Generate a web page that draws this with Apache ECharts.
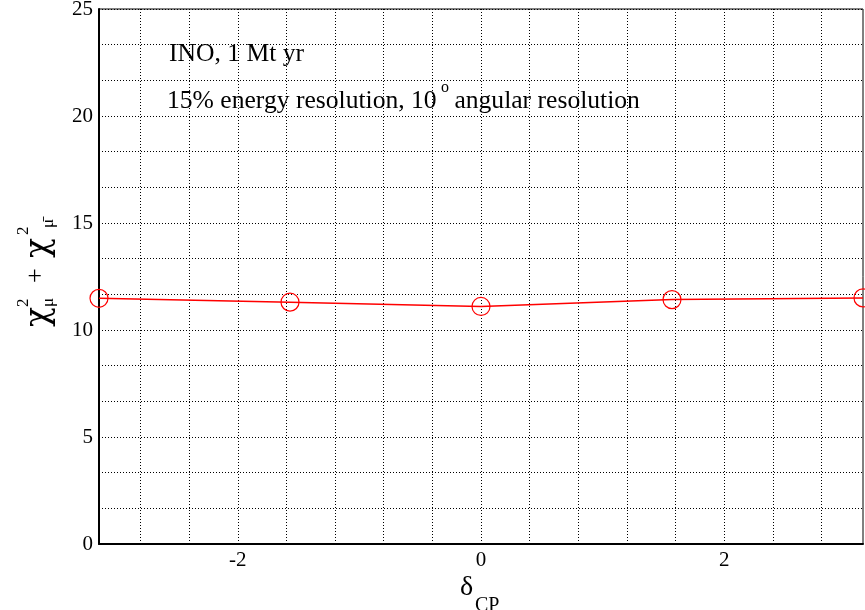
<!DOCTYPE html>
<html>
<head>
<meta charset="utf-8">
<script src="https://cdn.jsdelivr.net/npm/echarts@6/dist/echarts.min.js"></script>
<style>html,body{margin:0;padding:0;background:#fff}#c{width:865px;height:610px}</style>
</head>
<body>
<div id="c"></div>
<script>
const deltaCP = [-Math.PI, -Math.PI / 2, 0, Math.PI / 2, Math.PI];
const chi2 = [11.48, 11.3, 11.1, 11.42, 11.5];
const xGridTicks = [-2.8, -2.4, -2.0, -1.6, -1.2, -0.8, -0.4, 0, 0.4, 0.8, 1.2, 1.6, 2.0, 2.4, 2.8];
const xLabelTicks = [-2, 0, 2];
const yMin = 0, yMax = 25, yStep = 5 / 3, yLabelStep = 5;
const note1 = 'INO, 1 Mt yr';
const note2a = '15% energy resolution, 10';
const note2sup = 'o';
const note2b = ' angular resolution';

const FONT = '"Liberation Serif", "DejaVu Serif", serif';
const f = (s) => s + 'px ' + FONT;
const fChi = (s) => s + 'px "DejaVu Serif", serif';
const chart = echarts.init(document.getElementById('c'));
chart.setOption({
  animation: false,
  backgroundColor: '#fff',
  grid: { left: 99, right: 2, top: 9, bottom: 66, outerBoundsMode: 'none', containLabel: false,
    show: true, borderColor: '#000', borderWidth: 1, backgroundColor: 'transparent' },
  xAxis: {
    type: 'value', min: -Math.PI, max: Math.PI,
    axisLine: { show: true, onZero: false, lineStyle: { color: '#000', width: 2 } },
    axisTick: { show: false, customValues: xGridTicks },
    axisLabel: { customValues: xLabelTicks, color: '#000', fontFamily: FONT, fontSize: 21, margin: 6,
      formatter: v => (v < 0 ? '-' : '') + Math.abs(Math.round(v)) },
    splitLine: { show: true, lineStyle: { color: '#000', type: [1, 2], width: 1 } }
  },
  yAxis: {
    type: 'value', min: yMin, max: yMax, interval: yStep,
    axisLine: { show: true, onZero: false, lineStyle: { color: '#000', width: 2 } },
    axisTick: { show: false },
    axisLabel: { color: '#000', fontFamily: FONT, fontSize: 21, margin: 6,
      formatter: v => { const r = v / yLabelStep; return Math.abs(r - Math.round(r)) < 1e-3 ? String(Math.round(v)) : ''; } },
    splitLine: { show: true, lineStyle: { color: '#000', type: [1, 2], width: 1 } }
  },
  series: [{
    type: 'line',
    data: deltaCP.map((x, i) => [x, chi2[i]]),
    symbol: 'circle', symbolSize: 18,
    itemStyle: { color: 'rgba(0,0,0,0)', borderColor: '#ff0000', borderWidth: 1.2 },
    lineStyle: { color: '#ff0000', width: 1.5 },
    clip: false
  }],
  graphic: [
    { type: 'text', x: 169, y: 54, style: { text: note1, font: f(25.6), fill: '#000', verticalAlign: 'middle' } },
    { type: 'group', x: 167, y: 101, children: [
      { type: 'text', x: 0, y: 0, style: { text: note2a, font: f(25.6), fill: '#000', verticalAlign: 'middle' } },
      { type: 'text', x: 274, y: -13, style: { text: note2sup, font: f(16), fill: '#000', verticalAlign: 'middle' } },
      { type: 'text', x: 281, y: 0, style: { text: note2b, font: f(25.6), fill: '#000', verticalAlign: 'middle' } }
    ] },
    { type: 'group', x: 460, y: 588, children: [
      { type: 'text', x: 0, y: 0, style: { text: 'δ', font: f(28), fill: '#000', verticalAlign: 'middle' } },
      { type: 'text', x: 15, y: 18, style: { text: 'CP', font: f(20), fill: '#000', verticalAlign: 'middle' } }
    ] },
    { type: 'group', x: 45, y: 330, rotation: Math.PI / 2, children: [
      { type: 'text', x: 3, y: -6, style: { text: 'χ', font: fChi(33), fill: '#000', verticalAlign: 'middle' } },
      { type: 'text', x: 23, y: -21, style: { text: '2', font: f(17), fill: '#000', verticalAlign: 'middle' } },
      { type: 'text', x: 23, y: 4, style: { text: 'μ', font: f(17), fill: '#000', verticalAlign: 'middle' } },
      { type: 'text', x: 47, y: -9, style: { text: '+', font: f(26), fill: '#000', verticalAlign: 'middle' } },
      { type: 'text', x: 72, y: -6, style: { text: 'χ', font: fChi(33), fill: '#000', verticalAlign: 'middle' } },
      { type: 'text', x: 95, y: -21, style: { text: '2', font: f(17), fill: '#000', verticalAlign: 'middle' } },
      { type: 'text', x: 102, y: 4, style: { text: 'μ̄', font: f(17), fill: '#000', verticalAlign: 'middle' } }
    ] }
  ]
});
</script>
</body>
</html>
